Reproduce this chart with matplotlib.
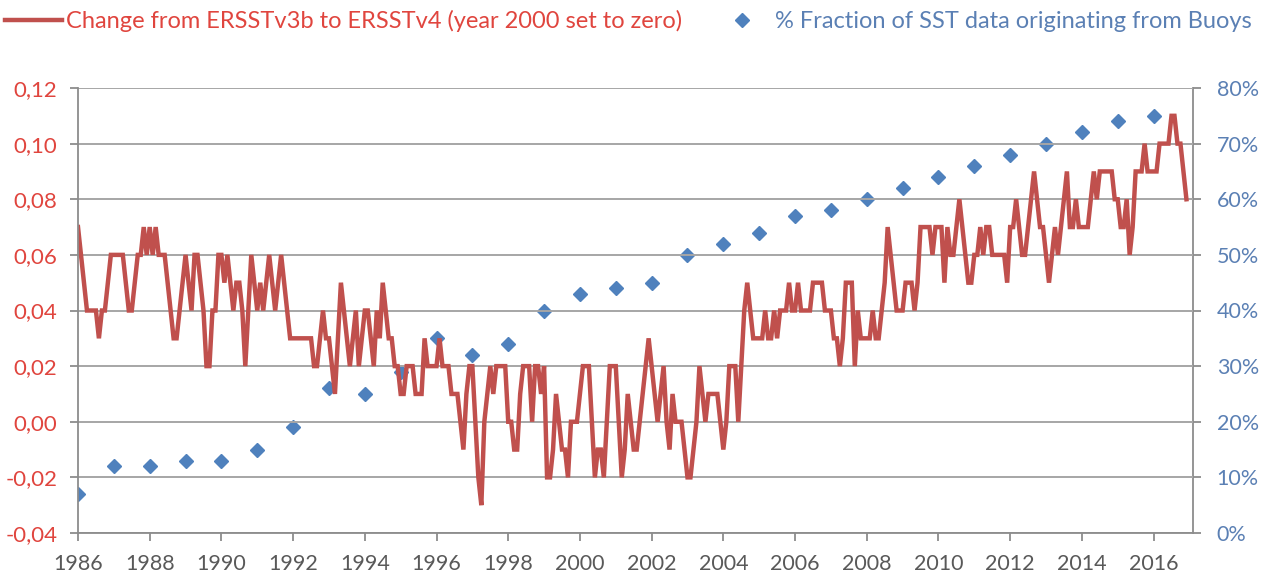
import matplotlib
matplotlib.use("Agg")
import matplotlib.pyplot as plt
from matplotlib.ticker import FuncFormatter, MultipleLocator
from matplotlib.lines import Line2D

# monthly change ERSSTv3b -> ERSSTv4, Jan 1986 .. Dec 2016
change = {
    1986: [0.07, 0.06, 0.05, 0.04, 0.04, 0.04, 0.04, 0.03, 0.04, 0.04, 0.05, 0.06],
    1987: [0.06, 0.06, 0.06, 0.06, 0.05, 0.04, 0.04, 0.05, 0.06, 0.06, 0.07, 0.06],
    1988: [0.07, 0.06, 0.07, 0.06, 0.06, 0.06, 0.05, 0.04, 0.03, 0.03, 0.04, 0.05],
    1989: [0.06, 0.05, 0.04, 0.06, 0.06, 0.05, 0.04, 0.02, 0.02, 0.04, 0.04, 0.06],
    1990: [0.06, 0.05, 0.06, 0.05, 0.04, 0.05, 0.05, 0.04, 0.02, 0.04, 0.06, 0.05],
    1991: [0.04, 0.05, 0.04, 0.05, 0.06, 0.05, 0.04, 0.05, 0.06, 0.05, 0.04, 0.03],
    1992: [0.03, 0.03, 0.03, 0.03, 0.03, 0.03, 0.03, 0.02, 0.02, 0.03, 0.04, 0.03],
    1993: [0.03, 0.02, 0.01, 0.03, 0.05, 0.04, 0.03, 0.02, 0.03, 0.04, 0.02, 0.03],
    1994: [0.04, 0.04, 0.03, 0.02, 0.04, 0.03, 0.05, 0.04, 0.03, 0.03, 0.02, 0.02],
    1995: [0.01, 0.01, 0.02, 0.02, 0.02, 0.01, 0.01, 0.01, 0.03, 0.02, 0.02, 0.02],
    1996: [0.02, 0.03, 0.02, 0.02, 0.02, 0.01, 0.01, 0.01, 0.00, -0.01, 0.01, 0.02],
    1997: [0.02, 0.00, -0.02, -0.03, 0.00, 0.01, 0.02, 0.01, 0.02, 0.02, 0.02, 0.02],
    1998: [0.00, 0.00, -0.01, -0.01, 0.01, 0.02, 0.02, 0.02, 0.00, 0.02, 0.02, 0.01],
    1999: [0.02, -0.02, -0.02, -0.01, 0.01, 0.00, -0.01, -0.01, -0.02, 0.00, 0.00, 0.00],
    2000: [0.01, 0.02, 0.02, 0.02, 0.00, -0.02, -0.01, -0.01, -0.02, 0.00, 0.02, 0.02],
    2001: [0.02, 0.00, -0.02, -0.01, 0.01, 0.00, -0.01, -0.01, 0.00, 0.01, 0.02, 0.03],
    2002: [0.02, 0.01, 0.00, 0.01, 0.02, 0.00, -0.01, 0.01, 0.00, 0.00, 0.00, -0.01],
    2003: [-0.02, -0.02, -0.01, 0.00, 0.02, 0.01, 0.00, 0.01, 0.01, 0.01, 0.01, 0.00],
    2004: [-0.01, 0.00, 0.02, 0.02, 0.02, 0.00, 0.02, 0.04, 0.05, 0.04, 0.03, 0.03],
    2005: [0.03, 0.03, 0.04, 0.03, 0.03, 0.04, 0.03, 0.04, 0.04, 0.04, 0.05, 0.04],
    2006: [0.04, 0.05, 0.04, 0.04, 0.04, 0.04, 0.05, 0.05, 0.05, 0.05, 0.04, 0.04],
    2007: [0.04, 0.03, 0.03, 0.02, 0.03, 0.05, 0.05, 0.05, 0.02, 0.04, 0.03, 0.03],
    2008: [0.03, 0.03, 0.04, 0.03, 0.03, 0.04, 0.05, 0.07, 0.06, 0.05, 0.04, 0.04],
    2009: [0.04, 0.05, 0.05, 0.05, 0.04, 0.05, 0.07, 0.07, 0.07, 0.07, 0.06, 0.07],
    2010: [0.07, 0.07, 0.05, 0.07, 0.06, 0.06, 0.07, 0.08, 0.07, 0.06, 0.05, 0.05],
    2011: [0.06, 0.06, 0.07, 0.06, 0.07, 0.07, 0.06, 0.06, 0.06, 0.06, 0.06, 0.05],
    2012: [0.07, 0.07, 0.08, 0.07, 0.06, 0.06, 0.07, 0.08, 0.09, 0.08, 0.07, 0.07],
    2013: [0.06, 0.05, 0.06, 0.07, 0.06, 0.07, 0.08, 0.09, 0.07, 0.07, 0.08, 0.07],
    2014: [0.07, 0.07, 0.07, 0.08, 0.09, 0.08, 0.09, 0.09, 0.09, 0.09, 0.09, 0.08],
    2015: [0.08, 0.07, 0.07, 0.08, 0.06, 0.07, 0.09, 0.09, 0.09, 0.10, 0.09, 0.09],
    2016: [0.09, 0.09, 0.10, 0.10, 0.10, 0.10, 0.11, 0.11, 0.10, 0.10, 0.09, 0.08],
}

# yearly buoy share (%)
buoy_years = list(range(1986, 2017))
buoy_pct = [7, 12, 12, 13, 13, 15, 19, 26, 25, 29, 35, 32, 34, 40, 43, 44,
            45, 50, 52, 54, 57, 58, 60, 62, 64, 66, 68, 70, 72, 74, 75]

red = '#C0504D'
blue = '#4F81BD'
red_txt = '#E0453E'
blue_txt = '#5B80B4'
grey_txt = '#595959'
axis_col = '#8C8C8C'

t = []
v = []
for yr, vals in change.items():
    for i, val in enumerate(vals):
        t.append(yr + i / 12)
        v.append(val)

plt.rcParams['font.family'] = ['Lato', 'DejaVu Sans']

fig = plt.figure(figsize=(12.75, 5.75), dpi=100)
ax = fig.add_axes([78 / 1275, 1 - 533 / 575, (1193 - 78) / 1275, (533 - 88) / 575])
ax2 = ax.twinx()

ax.set_zorder(ax2.get_zorder() + 1)
ax.patch.set_visible(False)

ax.plot(t, v, color=red, lw=3.2, solid_joinstyle='miter')
ax2.plot(buoy_years, buoy_pct, ls='none', marker='D', ms=7, color=blue)

ax.set_xlim(1986, 2017.1)
ax.set_ylim(-0.04, 0.12)
ax2.set_ylim(0, 80)

ax.yaxis.set_major_locator(MultipleLocator(0.02))
ax.yaxis.set_major_formatter(FuncFormatter(lambda y, p: f'{y:.2f}'.replace('.', ',').replace('-0,00', '0,00')))
ax2.yaxis.set_major_locator(MultipleLocator(10))
ax2.yaxis.set_major_formatter(FuncFormatter(lambda y, p: f'{y:.0f}%'))
ax.set_xticks(range(1986, 2017, 2))

ax.grid(axis='y', color='#A6A6A6', lw=1.4)
ax.set_axisbelow(True)

for a in (ax, ax2):
    for s in a.spines.values():
        s.set_visible(False)
ax.spines['bottom'].set_visible(True)
ax.spines['left'].set_visible(True)
ax2.spines['right'].set_visible(True)
for s in (ax.spines['bottom'], ax.spines['left'], ax2.spines['right']):
    s.set_color(axis_col)
    s.set_linewidth(1.3)

ax.tick_params(axis='y', colors=axis_col, labelcolor=red_txt, labelsize=16, length=6, width=1.3, pad=9)
ax.tick_params(axis='x', colors=axis_col, labelcolor=grey_txt, labelsize=15.5, length=6, width=1.3, pad=9)
ax2.tick_params(axis='y', colors=axis_col, labelcolor=blue_txt, labelsize=15.5, length=6, width=1.3, pad=11)

handles = [Line2D([], [], color=red, lw=3.2),
           Line2D([], [], ls='none', marker='D', ms=7, color=blue)]
labels = ['Change from ERSSTv3b to ERSSTv4 (year 2000 set to zero)',
          '% Fraction of SST data originating from Buoys']
leg = fig.legend(handles, labels, loc='upper left', bbox_to_anchor=(5 / 1275, 1 - 10 / 575), ncol=2,
                 frameon=False, fontsize=17, handlelength=2.4, columnspacing=1.3, handletextpad=0.2,
                 borderpad=0, borderaxespad=0)
leg.get_texts()[0].set_color(red_txt)
leg.get_texts()[1].set_color(blue_txt)

fig.savefig('out.png', dpi=100)
